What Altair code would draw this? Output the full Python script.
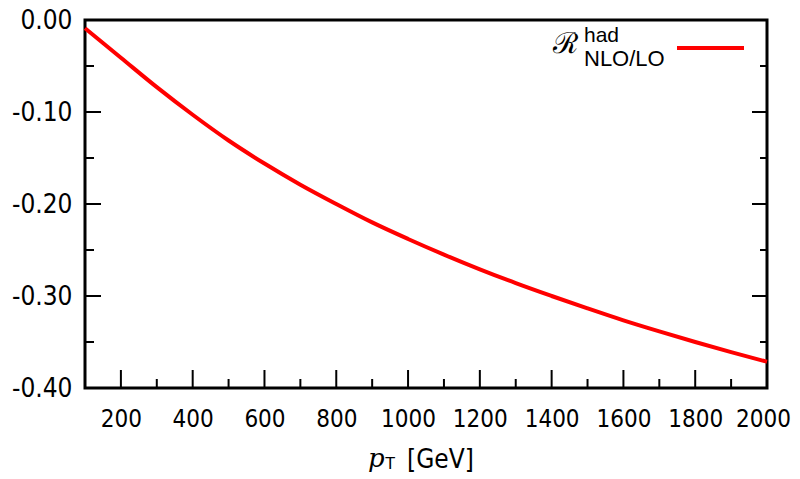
import altair as alt
import pandas as pd

# Data
pt = [100, 200, 300, 400, 500, 600, 700, 800, 900, 1000, 1100, 1200, 1300,
      1400, 1500, 1600, 1700, 1800, 1900, 2000]
ratio = [-0.009, -0.041, -0.073, -0.103, -0.131, -0.156, -0.179, -0.200,
         -0.220, -0.238, -0.255, -0.271, -0.286, -0.300, -0.3135, -0.3265,
         -0.3385, -0.350, -0.361, -0.3715]

x_major = [200, 400, 600, 800, 1000, 1200, 1400, 1600, 1800]
x_minor = [300, 500, 700, 900, 1100, 1300, 1500, 1700, 1900]
y_major = [-0.1, -0.2, -0.3]
y_minor = [-0.05, -0.15, -0.25, -0.35]
x_labels = [200, 400, 600, 800, 1000, 1200, 1400, 1600, 1800, 2000]
y_labels = [0.0, -0.1, -0.2, -0.3, -0.4]

W, H = 682, 368
FONT = "DejaVu Sans Condensed, Liberation Sans Narrow, Liberation Sans, sans-serif"
RED = "#ff0000"

df = pd.DataFrame({"pt": pt, "r": ratio})
xs = alt.Scale(domain=[100, 2000], nice=False, zero=False)
ys = alt.Scale(domain=[-0.4, 0.0], nice=False, zero=False)

x_axis = alt.Axis(values=x_labels, ticks=False, domain=False, grid=False,
                  labelFont=FONT, labelFontSize=24, labelColor="black",
                  labelPadding=19, labelFlush=False, format="d",
                  labelOffset={"condition": {"test": "datum.value == 2000", "value": -4},
                               "value": 0})
y_axis = alt.Axis(values=y_labels, ticks=False, domain=False, grid=False,
                  labelFont=FONT, labelFontSize=26, labelColor="black",
                  labelPadding=13, labelFlush=False,
                  labelExpr="replace(format(datum.value, '.2f'), '\u2212', '-')")

line = alt.Chart(df).mark_line(color=RED, strokeWidth=4, interpolate="monotone").encode(
    x=alt.X("pt:Q", scale=xs, title=None, axis=x_axis),
    y=alt.Y("r:Q", scale=ys, title=None, axis=y_axis),
)

def vticks(vals, length):
    d = pd.DataFrame({"v": vals})
    return alt.Chart(d).mark_rule(color="black", strokeWidth=2).encode(
        x=alt.X("v:Q", scale=xs, title=None, axis=x_axis),
        y=alt.value(H), y2=alt.value(H - length))

def hticks(vals, length, side):
    d = pd.DataFrame({"v": vals})
    if side == "left":
        x0, x1 = 0, length
    else:
        x0, x1 = W, W - length
    return alt.Chart(d).mark_rule(color="black", strokeWidth=2).encode(
        y=alt.Y("v:Q", scale=ys, title=None, axis=y_axis),
        x=alt.value(x0), x2=alt.value(x1))

ticks = [
    vticks(x_major, 18), vticks(x_minor, 9),
    hticks(y_major, 16, "left"), hticks(y_minor, 9, "left"),
    hticks(y_major, 15, "right"), hticks(y_minor, 7, "right"),
]

def label(txt, x, y, size, font=FONT, style="normal", align="left"):
    return alt.Chart(pd.DataFrame({"t": [txt]})).mark_text(
        font=font, fontSize=size, fontStyle=style, align=align,
        baseline="alphabetic", color="black").encode(
        text="t:N", x=alt.value(x), y=alt.value(y))

legend_line = alt.Chart(pd.DataFrame({"a": [0]})).mark_rule(
    color=RED, strokeWidth=4).encode(
    x=alt.value(592), x2=alt.value(659), y=alt.value(28))

texts = [
    label("\u211b", 468, 33, 29, font="DejaVu Serif"),
    label("had", 499, 22, 21, font="Liberation Sans"),
    label("NLO/LO", 499, 46, 22, font="Liberation Sans"),
    label("p", 283, 447, 26, font="DejaVu Serif", style="italic"),
    label("T", 300, 449, 17, font="Liberation Sans"),
    label("[GeV]", 322, 448, 26, font=FONT),
]

chart = alt.layer(line, *ticks, legend_line, *texts).properties(
    width=W, height=H,
    autosize=alt.AutoSizeParams(type="none"),
    padding={"left": 77, "top": 12, "right": 25, "bottom": 85},
).configure_view(stroke="black", strokeWidth=3)

chart.save("out.html", embed_options={"renderer": "svg", "actions": False})
